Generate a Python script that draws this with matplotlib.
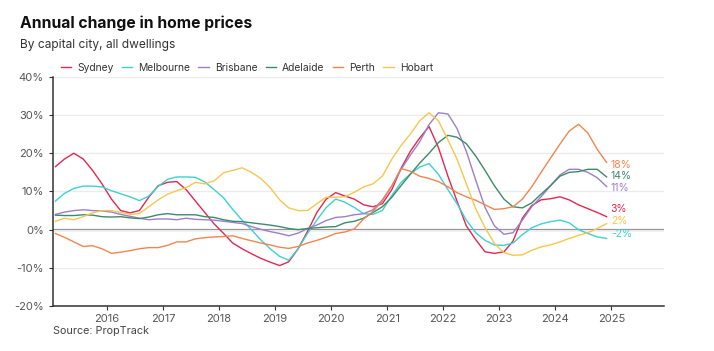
import numpy as np
import pandas as pd
import matplotlib.pyplot as plt

plt.rcParams['font.family'] = ['Inter', 'DejaVu Sans']

# bimonthly readings, Feb 2015 - Dec 2024 (annual % change)
dates = pd.date_range("2015-02-01", "2024-12-01", freq="2MS")

sydney = [16.5, 18.5, 20.0, 18.5, 15.5, 12.0, 8.0, 5.0, 4.4, 5.0,
          8.5, 11.5, 12.4, 12.6, 10.5, 7.5, 4.5, 1.5, -1.0, -3.5,
          -5.0, -6.3, -7.5, -8.5, -9.4, -8.4, -5.0, -0.5, 4.5, 8.0,
          9.7, 8.8, 8.0, 6.5, 6.0, 6.8, 10.5, 16.0, 20.5, 24.0,
          27.0, 21.5, 14.0, 7.5, 1.0, -2.6, -5.8, -6.2, -5.8, -3.0,
          3.0, 6.3, 7.8, 8.1, 8.6, 7.8, 6.5, 5.5, 4.5, 3.4]
melbourne = [7.5, 9.5, 10.8, 11.4, 11.4, 11.2, 10.2, 9.4, 8.6, 7.6,
             8.8, 11.3, 13.2, 13.8, 13.8, 13.7, 12.5, 10.5, 8.3, 5.3,
             2.5, 0.0, -2.7, -5.0, -7.0, -8.0, -5.0, -1.0, 2.5, 5.8,
             8.0, 7.2, 5.8, 4.2, 4.0, 5.0, 9.0, 12.3, 14.6, 16.4,
             17.3, 14.5, 10.5, 6.8, 2.5, -0.8, -2.8, -4.0, -4.1, -3.5,
             -1.3, 0.5, 1.5, 2.1, 2.5, 1.8, 0.0, -1.0, -1.9, -2.3]
brisbane = [4.0, 4.6, 5.0, 5.2, 5.0, 4.9, 4.6, 4.0, 3.5, 3.0,
            2.6, 2.8, 2.8, 2.6, 3.0, 2.7, 2.6, 2.5, 2.2, 1.9,
            1.6, 0.8, 0.1, -0.5, -1.0, -1.6, -0.9, 0.3, 1.2, 2.4,
            3.2, 3.4, 3.9, 4.2, 5.2, 7.8, 11.5, 15.7, 19.5, 23.0,
            27.5, 30.6, 30.3, 26.5, 20.5, 13.0, 5.8, 1.0, -1.2, -0.8,
            2.5, 6.0, 8.6, 11.5, 14.3, 15.8, 15.8, 15.0, 13.6, 11.3]
adelaide = [3.8, 3.7, 3.7, 3.9, 3.8, 3.4, 3.3, 3.4, 3.1, 2.9,
            3.3, 3.9, 4.2, 3.9, 3.9, 3.9, 3.4, 3.2, 2.6, 2.2,
            2.1, 1.8, 1.5, 1.2, 0.8, 0.3, 0.0, 0.3, 0.5, 0.7,
            0.8, 1.8, 2.2, 3.0, 4.5, 6.0, 8.5, 11.5, 14.5, 17.4,
            20.0, 22.8, 24.7, 24.2, 22.5, 19.3, 15.5, 11.5, 8.0, 6.0,
            5.7, 7.0, 9.3, 11.5, 14.0, 15.0, 15.2, 15.8, 15.8, 13.8]
perth = [-1.0, -2.0, -3.2, -4.4, -4.2, -5.0, -6.2, -5.9, -5.5, -5.0,
         -4.7, -4.7, -4.1, -3.2, -3.2, -2.4, -2.1, -1.9, -1.8, -1.6,
         -2.3, -2.9, -3.5, -4.0, -4.6, -4.9, -4.4, -3.5, -2.8, -2.0,
         -1.0, -0.6, 0.2, 2.8, 4.8, 7.5, 11.5, 16.0, 15.3, 14.0,
         13.4, 12.6, 11.2, 9.7, 8.6, 7.7, 6.5, 5.3, 5.5, 6.0,
         8.0, 11.2, 15.0, 18.7, 22.4, 25.8, 27.6, 25.3, 21.0, 17.6]
hobart = [2.2, 3.0, 2.6, 3.4, 4.4, 5.0, 5.0, 4.5, 4.0, 4.2,
          6.0, 7.8, 9.3, 10.2, 11.0, 12.4, 12.0, 12.8, 14.9, 15.5,
          16.2, 15.0, 13.4, 11.0, 7.8, 5.7, 5.0, 5.0, 6.8, 8.5,
          8.5, 8.6, 9.8, 11.2, 12.0, 14.0, 18.5, 22.0, 25.0, 28.5,
          30.6, 28.5, 23.5, 18.5, 12.0, 5.5, 0.5, -3.6, -6.0, -6.7,
          -6.6, -5.4, -4.5, -4.0, -3.2, -2.3, -1.5, -0.8, 0.3, 1.6]

cities = ["Sydney", "Melbourne", "Brisbane", "Adelaide", "Perth", "Hobart"]
series = [sydney, melbourne, brisbane, adelaide, perth, hobart]
colors = ["#e0294f", "#3fd0d3", "#9a7fcb", "#3d8a68", "#ef8650", "#f6c74f"]
end_labels = ["3%", "-2%", "11%", "14%", "18%", "2%"]
label_dy = [5.5, 3.5, -1, 1, -2, 1.5]   # points, to keep end labels apart

yticks = [-20, -10, 0, 10, 20, 30, 40]
years = list(range(2016, 2026))

fig = plt.figure(figsize=(7.14, 3.51), dpi=100)
ax = fig.add_axes([0.074, 0.128, 0.856, 0.653])

for name, vals, c in zip(cities, series, colors):
    ax.plot(dates, vals, color=c, lw=1.0, label=name)

for vals, c, lab, dy in zip(series, colors, end_labels, label_dy):
    ax.annotate(lab, (dates[-1], vals[-1]), xytext=(3, dy), textcoords="offset points",
                color=c, fontsize=7.5, va="center", ha="left")

ax.axhline(0, color="#8a8a8a", lw=1.6, zorder=0)
ax.set_ylim(-20, 40)
ax.set_yticks(yticks)
ax.set_yticklabels([f"{v}%" for v in yticks])
ax.grid(axis="y", color="#ebebeb", lw=0.9)
ax.set_axisbelow(True)

ax.set_xlim(pd.Timestamp("2015-01-15"), pd.Timestamp("2025-12-10"))
ax.set_xticks([pd.Timestamp(f"{y}-01-01") for y in years])
ax.set_xticklabels([str(y) for y in years])

for s in ["top", "right"]:
    ax.spines[s].set_visible(False)
for s in ["left", "bottom"]:
    ax.spines[s].set_color("#333333")
    ax.spines[s].set_linewidth(1.1)
ax.tick_params(axis="both", colors="#333333", labelcolor="#555555", labelsize=8,
               length=3, width=0.8)
ax.tick_params(axis="x", pad=3)

fig.text(0.028, 0.935, "Annual change in home prices", fontsize=11.3, fontweight="bold",
         color="#111111", va="center")
fig.text(0.028, 0.872, "By capital city, all dwellings", fontsize=8.6, color="#333333",
         va="center")
fig.text(0.074, 0.057, "Source: PropTrack", fontsize=7.8, color="#444444", va="center")

fig.legend(loc="center left", bbox_to_anchor=(0.085, 0.806), ncol=6, frameon=False,
           fontsize=7.4, handlelength=1.0, handletextpad=0.6, columnspacing=0.8,
           labelcolor="#333333", borderaxespad=0, borderpad=0)

fig.savefig("out.png", dpi=100)
